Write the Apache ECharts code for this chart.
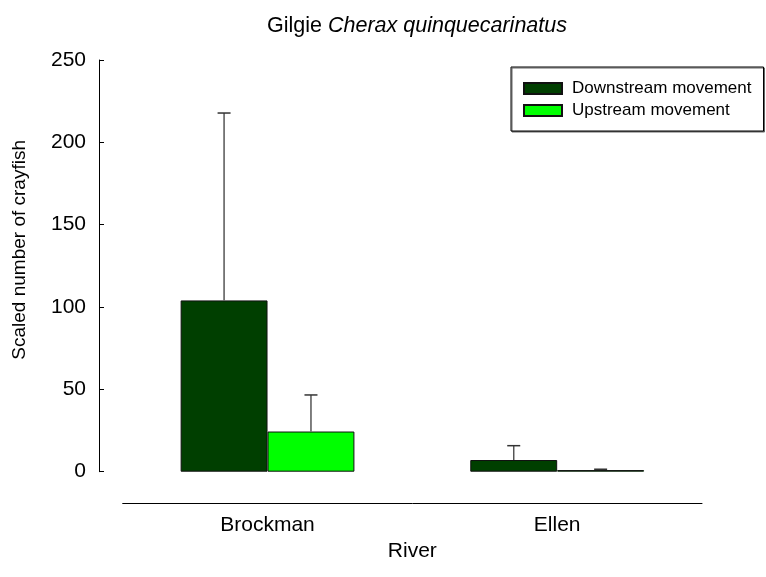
<!DOCTYPE html>
<html>
<head>
<meta charset="utf-8">
<script src="https://cdn.jsdelivr.net/npm/echarts@6/dist/echarts.min.js"></script>
<style>
  html, body { margin: 0; padding: 0; background: #fff; }
  #chart { width: 766px; height: 577px; }
</style>
</head>
<body>
<div id="chart"></div>
<script>
// Crayfish movement counts per river, with standard errors (upper whisker only)
const rivers = ['Brockman', 'Ellen'];
const downstream = [104, 7.1];
const upstream = [24.4, 1.0];
const downstreamSE = [113.8, 8.7];
const upstreamSE = [22.2, 0.5];
const yTicks = { min: 0, max: 250, step: 50 };

const FONT = '"Liberation Sans", Arial, sans-serif';
const BAR_SHARE = 0.3; // each bar takes 30% of a category band

// Upper error whiskers drawn on top of the bars; side = -1 left bar, +1 right bar
function whiskers(values, errors, side) {
  return {
    type: 'custom',
    silent: true,
    z: 3,
    data: values.map((v, i) => [i, v, v + errors[i]]),
    renderItem(params, api) {
      const band = api.size([1, 0])[0];
      const dx = side * band * BAR_SHARE / 2;
      const base = api.coord([api.value(0), api.value(1)]);
      const top = api.coord([api.value(0), api.value(2)]);
      const x = base[0] + dx;
      const cap = 6.5;
      return {
        type: 'group',
        children: [
          { type: 'line', shape: { x1: x, y1: base[1], x2: x, y2: top[1] },
            style: { stroke: '#555', lineWidth: 1.5 } },
          { type: 'line', shape: { x1: x - cap, y1: top[1], x2: x + cap, y2: top[1] },
            style: { stroke: '#333', lineWidth: 1.5 } }
        ]
      };
    }
  };
}

const chart = echarts.init(document.getElementById('chart'), null, { renderer: 'canvas' });

chart.setOption({
  animation: false,
  backgroundColor: '#fff',
  textStyle: { fontFamily: FONT, color: '#000' },
  title: {
    text: '{n|Gilgie }{s|Cherax quinquecarinatus}',
    left: 412,
    top: 10,
    textAlign: 'center',
    textStyle: {
      fontWeight: 'normal',
      rich: {
        n: { fontFamily: FONT, fontSize: 21.5, fontWeight: 'normal', color: '#000' },
        s: { fontFamily: FONT, fontSize: 21.5, fontWeight: 'normal', color: '#000', fontStyle: 'italic' }
      }
    }
  },
  legend: {
    orient: 'vertical',
    left: 511,
    top: 67,
    padding: [13, 12, 12, 12],
    itemGap: 5,
    itemWidth: 38,
    itemHeight: 11,
    backgroundColor: '#fff',
    borderColor: '#000',
    borderWidth: 1,
    borderRadius: 0,
    shadowColor: '#666',
    shadowBlur: 0,
    shadowOffsetX: 1,
    shadowOffsetY: 1,
    icon: 'rect',
    textStyle: { fontFamily: FONT, fontSize: 17, color: '#000', padding: [0, 0, 0, 5] },
    data: ['Downstream movement', 'Upstream movement']
  },
  grid: { left: 122.7, right: 64, top: 60, bottom: 105.3, containLabel: false },
  xAxis: {
    type: 'category',
    data: rivers,
    offset: 31.3,
    name: 'River',
    nameLocation: 'middle',
    nameGap: 38,
    nameTextStyle: { fontFamily: FONT, fontSize: 21, color: '#000' },
    axisLine: { onZero: false, lineStyle: { color: '#000', width: 1 } },
    axisTick: { inside: true, alignWithLabel: true, length: 6, lineStyle: { color: '#000' } },
    axisLabel: { margin: 12, fontFamily: FONT, fontSize: 21, color: '#000' },
    splitLine: { show: false }
  },
  yAxis: {
    type: 'value',
    min: yTicks.min,
    max: yTicks.max,
    interval: yTicks.step,
    offset: 23.7,
    name: 'Scaled number of crayfish',
    nameLocation: 'middle',
    nameGap: 70,
    nameRotate: 90,
    nameTextStyle: { fontFamily: FONT, fontSize: 19, color: '#000', padding: [0, 0, 0, 32] },
    axisLine: { show: true, lineStyle: { color: '#000', width: 1 } },
    axisTick: { show: true, inside: true, length: 5, lineStyle: { color: '#000' } },
    axisLabel: { margin: 13, fontFamily: FONT, fontSize: 21, color: '#000' },
    splitLine: { show: false }
  },
  series: [
    {
      name: 'Downstream movement',
      type: 'bar',
      data: downstream,
      barWidth: (BAR_SHARE * 100) + '%',
      barGap: '0%',
      itemStyle: { color: '#003f00', borderColor: '#111', borderWidth: 1 }
    },
    {
      name: 'Upstream movement',
      type: 'bar',
      data: upstream,
      barWidth: (BAR_SHARE * 100) + '%',
      barGap: '0%',
      itemStyle: { color: '#00ff00', borderColor: '#111', borderWidth: 1 }
    },
    whiskers(downstream, downstreamSE, -1),
    whiskers(upstream, upstreamSE, 1)
  ]
});
</script>
</body>
</html>
